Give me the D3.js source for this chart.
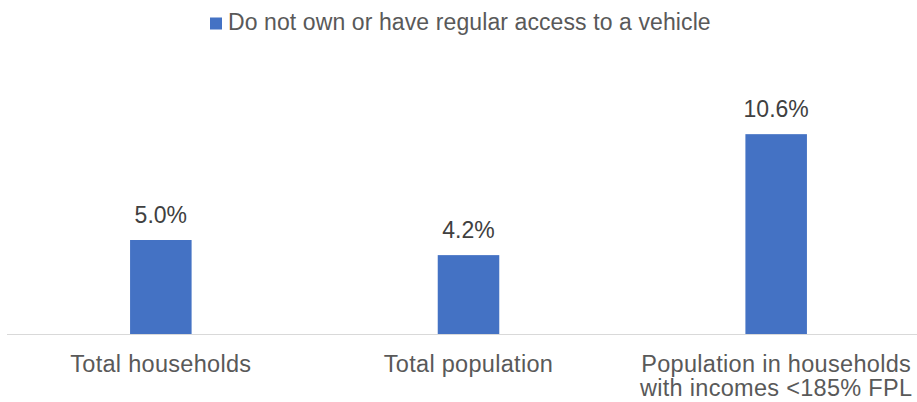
<!DOCTYPE html>
<html>
<head>
<meta charset="utf-8">
<script src="https://cdn.jsdelivr.net/npm/d3@7"></script>
<style>
  html, body { margin: 0; padding: 0; background: #fff; }
  svg { display: block; font-family: "Liberation Sans", Arial, sans-serif; }
</style>
</head>
<body>
<svg id="chart" width="917" height="402"></svg>
<script>
// Share who do not own or have regular access to a vehicle
const categories = [
  ["Total households"],
  ["Total population"],
  ["Population in households", "with incomes <185% FPL"]
];
const values = [5.0, 4.2, 10.6];
const valueLabels = ["5.0%", "4.2%", "10.6%"];
const seriesName = "Do not own or have regular access to a vehicle";

const svg = d3.select("#chart");
const W = 917, H = 402;
const baseY = 334.5;
const barColor = "#4472C4";

const keys = categories.map((c, i) => i);

const x = d3.scaleBand()
  .domain(keys)
  .range([7, 930])
  .paddingInner(0.8)
  .paddingOuter(0.4);

const y = d3.scaleLinear()
  .domain([0, 12])
  .range([baseY, baseY - 12 * 18.9]);

// Bars
svg.append("g")
  .selectAll("rect")
  .data(values)
  .join("rect")
  .attr("x", (d, i) => x(i))
  .attr("y", d => y(d))
  .attr("width", x.bandwidth())
  .attr("height", d => y(0) - y(d))
  .attr("fill", barColor);

// Category axis line
svg.append("line")
  .attr("x1", 7).attr("x2", W)
  .attr("y1", baseY).attr("y2", baseY)
  .attr("stroke", "#d9d9d9")
  .attr("stroke-width", 1.2);

// Value labels above bars
svg.append("g")
  .selectAll("text")
  .data(values)
  .join("text")
  .attr("x", (d, i) => x(i) + x.bandwidth() / 2)
  .attr("y", d => y(d) - 17)
  .attr("text-anchor", "middle")
  .attr("font-size", "23px")
  .attr("fill", "#404040")
  .text((d, i) => valueLabels[i]);

// Category labels, one text element per line
svg.append("g")
  .selectAll("g")
  .data(categories)
  .join("g")
  .each(function (lines, i) {
    d3.select(this).selectAll("text")
      .data(lines)
      .join("text")
      .attr("x", x(i) + x.bandwidth() / 2)
      .attr("y", (d, j) => 372 + j * 24)
      .attr("text-anchor", "middle")
      .attr("font-size", "23.5px")
      .attr("letter-spacing", "0.3px")
      .attr("fill", "#595959")
      .text(d => d);
  });

// Legend
const legend = svg.append("g");
legend.append("rect")
  .attr("x", 210).attr("y", 17.5)
  .attr("width", 12).attr("height", 12)
  .attr("fill", barColor);
legend.append("text")
  .attr("x", 228).attr("y", 29.5)
  .attr("font-size", "23px")
  .attr("letter-spacing", "0.1px")
  .attr("fill", "#595959")
  .text(seriesName);
</script>
</body>
</html>
